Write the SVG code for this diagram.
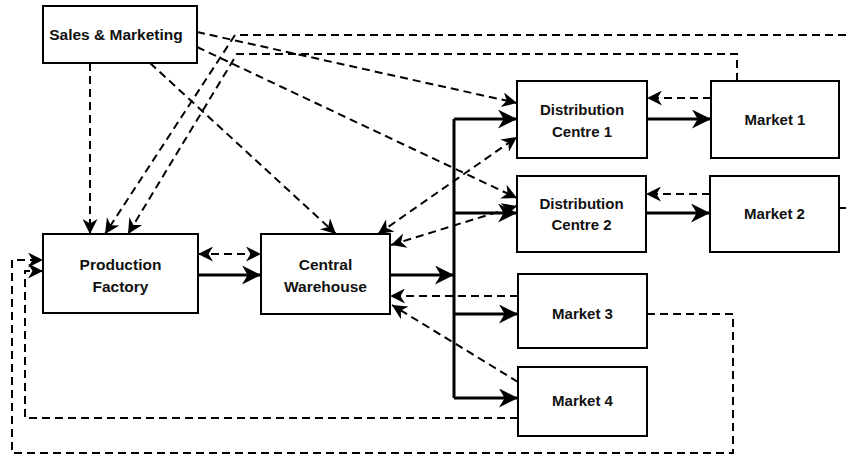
<svg xmlns="http://www.w3.org/2000/svg" width="846" height="456" viewBox="0 0 846 456">
<style>
.box{fill:#fff;stroke:#000;stroke-width:2}
.t{font-family:"Liberation Sans",Arial,sans-serif;font-weight:bold;font-size:15px;fill:#111;text-anchor:middle}
.big{font-size:15.5px}
.s{fill:none;stroke:#000;stroke-width:3}
.d{fill:none;stroke:#000;stroke-width:2;stroke-dasharray:8,5}
.sa{marker-end:url(#as)}
.da{marker-end:url(#ad)}
.db{marker-start:url(#ad);marker-end:url(#ad)}
</style>
<defs>
<marker id="as" markerUnits="userSpaceOnUse" viewBox="0 0 20 20" markerWidth="21" markerHeight="19" refX="20" refY="10" orient="auto-start-reverse">
<path d="M0,0 L20,10 L0,20 L6,10 Z" fill="#000"/>
</marker>
<marker id="ad" markerUnits="userSpaceOnUse" viewBox="0 0 20 20" markerWidth="17" markerHeight="15" refX="20" refY="10" orient="auto-start-reverse">
<path d="M0,0 L20,10 L0,20 L6,10 Z" fill="#000"/>
</marker>
</defs>
<rect width="846" height="456" fill="#fff"/>
<g id="connectors">
<line class="s sa" x1="198" y1="275" x2="261" y2="275"/>
<line class="s sa" x1="390" y1="275" x2="454" y2="275"/>
<line class="s" x1="454" y1="119" x2="454" y2="398"/>
<line class="s sa" x1="454" y1="119" x2="517" y2="119"/>
<line class="s sa" x1="454" y1="213" x2="517" y2="213"/>
<line class="s sa" x1="454" y1="314" x2="518" y2="314"/>
<line class="s sa" x1="454" y1="398" x2="518" y2="398"/>
<line class="s sa" x1="647" y1="119" x2="711" y2="119"/>
<line class="s sa" x1="646" y1="213" x2="710" y2="213"/>
<line class="d db" x1="198" y1="254" x2="261" y2="254"/>
<line class="d da" x1="90" y1="63" x2="90" y2="234"/>
<line class="d da" x1="150" y1="63" x2="336" y2="234"/>
<line class="d da" x1="197" y1="32" x2="517" y2="103"/>
<line class="d da" x1="197" y1="47" x2="517" y2="198"/>
<line class="d db" x1="378" y1="234" x2="517" y2="137"/>
<line class="d db" x1="391" y1="245" x2="517" y2="206"/>
<line class="d da" x1="518" y1="296" x2="390" y2="296"/>
<line class="d da" x1="518" y1="382" x2="392" y2="305"/>
<line class="d da" x1="711" y1="98" x2="647" y2="98"/>
<line class="d da" x1="710" y1="194" x2="646" y2="194"/>
<polyline class="d da" points="737,81 737,54 237,54 128,234"/>
<polyline class="d da" points="846,35 235,35 105,234"/>
<line class="d" x1="839" y1="208" x2="846" y2="208"/>
<polyline class="d da" points="518,418 25,418 25,271 43,271"/>
<polyline class="d da" points="647,314 733,314 733,453 12,453 12,260 43,260"/>
</g>
<g id="sales"><rect class="box" x="43" y="6" width="154" height="57"/><text class="t big" x="116" y="40">Sales &amp; Marketing</text></g>
<g id="factory"><rect class="box" x="43" y="234" width="155" height="79"/><text class="t big" x="120.5" y="270">Production</text><text class="t big" x="120.5" y="292">Factory</text></g>
<g id="warehouse"><rect class="box" x="261" y="234" width="129" height="80"/><text class="t big" x="325.5" y="270">Central</text><text class="t big" x="325.5" y="292">Warehouse</text></g>
<g id="dc1"><rect class="box" x="517" y="81" width="130" height="77"/><text class="t" x="582" y="115">Distribution</text><text class="t" x="582" y="137">Centre 1</text></g>
<g id="dc2"><rect class="box" x="517" y="176" width="129" height="76"/><text class="t" x="581.5" y="209">Distribution</text><text class="t" x="581.5" y="230">Centre 2</text></g>
<g id="market1"><rect class="box" x="711" y="81" width="128" height="77"/><text class="t" x="775" y="125">Market 1</text></g>
<g id="market2"><rect class="box" x="710" y="176" width="129" height="76"/><text class="t" x="774.5" y="219">Market 2</text></g>
<g id="market3"><rect class="box" x="518" y="274" width="129" height="74"/><text class="t" x="582.5" y="319">Market 3</text></g>
<g id="market4"><rect class="box" x="518" y="367" width="129" height="69"/><text class="t" x="582.5" y="406">Market 4</text></g>
</svg>
